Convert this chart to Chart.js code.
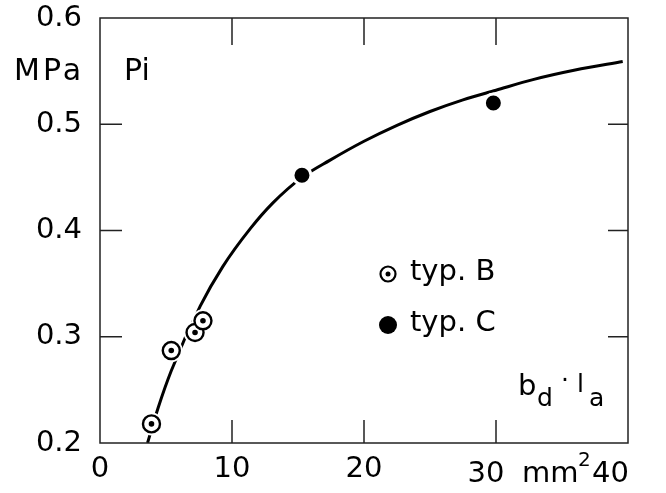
<!DOCTYPE html>
<html>
<head>
<meta charset="utf-8">
<script src="https://cdn.jsdelivr.net/npm/chart.js@4.4.1/dist/chart.umd.min.js"></script>
<style>
  html,body{margin:0;padding:0;background:#fff;}
  #wrap{width:666px;height:493px;}
</style>
</head>
<body>
<div id="wrap"><canvas id="chart" width="666" height="493"></canvas></div>
<script>
// fitted curve
const curveX = [3.6, 4.4, 5.4, 7.6, 9.3, 11.4, 13.1, 15.3, 17.4, 20.0, 22.5, 25.0, 27.5, 30.0, 32.8, 36.0, 39.6];
const curveY = [0.200, 0.233, 0.268, 0.329, 0.366, 0.402, 0.426, 0.450, 0.466, 0.484, 0.499, 0.512, 0.523, 0.532, 0.542, 0.551, 0.559];

// measured points
const typBX = [3.9, 5.4, 7.2, 7.8];
const typBY = [0.218, 0.287, 0.304, 0.315];
const typCX = [15.3, 29.8];
const typCY = [0.452, 0.520];

const xTicks = [0, 10, 20, 30, 40];
const yTicks = [0.2, 0.3, 0.4, 0.5, 0.6];

const FONT = 'DejaVu Sans';
const pts = (xs, ys) => xs.map((x, i) => ({x, y: ys[i]}));

// frame, inward tick marks, legend and free labels
const decor = {
  id: 'decor',
  afterDatasetsDraw(chart) {
    const {ctx, chartArea: a, scales: {x, y}} = chart;
    ctx.save();
    ctx.strokeStyle = '#222';
    ctx.lineWidth = 1.5;
    ctx.strokeRect(a.left, a.top, a.right - a.left, a.bottom - a.top);
    ctx.beginPath();
    xTicks.slice(1, -1).forEach(v => {
      const px = x.getPixelForValue(v);
      ctx.moveTo(px, a.bottom); ctx.lineTo(px, a.bottom - 23);
      ctx.moveTo(px, a.top); ctx.lineTo(px, a.top + 27);
    });
    yTicks.slice(1, -1).forEach(v => {
      const py = y.getPixelForValue(v);
      ctx.moveTo(a.left, py); ctx.lineTo(a.left + 22, py);
      ctx.moveTo(a.right, py); ctx.lineTo(a.right - 20, py);
    });
    ctx.stroke();

    ctx.fillStyle = '#000';
    ctx.textBaseline = 'middle';
    ctx.font = '30px ' + FONT;
    ctx.textAlign = 'left';
    ctx.letterSpacing = '3px';
    ctx.fillText('MPa', 14, 72);
    ctx.letterSpacing = '0px';
    ctx.fillText('Pi', 124, 72);

    // legend
    ctx.font = '29px ' + FONT;
    ctx.lineWidth = 2.2;
    ctx.beginPath(); ctx.arc(388, 274, 7.5, 0, Math.PI * 2);
    ctx.fillStyle = '#fff'; ctx.fill(); ctx.strokeStyle = '#000'; ctx.stroke();
    ctx.fillStyle = '#000';
    ctx.beginPath(); ctx.arc(388, 274, 2.5, 0, Math.PI * 2); ctx.fill();
    ctx.beginPath(); ctx.arc(388, 325, 9, 0, Math.PI * 2); ctx.fill();
    ctx.fillText('typ. B', 410, 272);
    ctx.fillText('typ. C', 410, 323);

    // axis quantity b_d · l_a
    ctx.textBaseline = 'alphabetic';
    ctx.fillText('b', 518, 395);
    ctx.font = '25px ' + FONT;
    ctx.fillText('d', 537, 406);
    ctx.fillText('\u00b7', 561, 388);
    ctx.fillText('l', 577, 392);
    ctx.fillText('a', 589, 406);

    // x unit with the last two tick labels
    ctx.font = '29px ' + FONT;
    ctx.textAlign = 'center';
    ctx.fillText('30', x.getPixelForValue(30) - 10, 482);
    ctx.textAlign = 'left';
    ctx.fillText('mm', 522, 482);
    ctx.font = '20px ' + FONT;
    ctx.fillText('2', 578, 466);
    ctx.font = '29px ' + FONT;
    ctx.fillText('40', 592, 482);
    ctx.restore();
  }
};

new Chart(document.getElementById('chart'), {
  type: 'scatter',
  data: {
    datasets: [
      {label: 'curve', data: pts(curveX, curveY), showLine: true, borderColor: '#000', borderWidth: 3,
       pointRadius: 0, cubicInterpolationMode: 'monotone', order: 5},
      {label: 'halo B', data: pts(typBX, typBY), pointRadius: 11.5, pointBackgroundColor: '#fff',
       pointBorderWidth: 0, order: 4},
      {label: 'typ. B', data: pts(typBX, typBY), pointRadius: 8.5, pointBackgroundColor: '#fff',
       pointBorderColor: '#000', pointBorderWidth: 2.4, order: 3},
      {label: 'dot B', data: pts(typBX, typBY), pointRadius: 2.8, pointBackgroundColor: '#000',
       pointBorderWidth: 0, order: 2},
      {label: 'typ. C', data: pts(typCX, typCY), pointRadius: 9, pointBackgroundColor: '#000',
       pointBorderColor: '#fff', pointBorderWidth: 3, order: 1}
    ]
  },
  options: {
    responsive: false,
    animation: false,
    layout: {padding: {top: 18, right: 38, left: 0, bottom: 0}},
    plugins: {legend: {display: false}, tooltip: {enabled: false}},
    scales: {
      x: {
        type: 'linear', min: 0, max: 40,
        afterBuildTicks: s => { s.ticks = xTicks.map(v => ({value: v})); },
        afterFit: s => { s.height = 50; s.paddingLeft = 0; s.paddingRight = 0; },
        grid: {display: false, drawTicks: false},
        border: {display: false},
        ticks: {color: '#000', font: {family: FONT, size: 29}, padding: 9,
                maxRotation: 0, callback: v => (v === 30 || v === 40) ? '' : v}
      },
      y: {
        type: 'linear', min: 0.2, max: 0.6,
        afterBuildTicks: s => { s.ticks = yTicks.map(v => ({value: v})); },
        afterFit: s => { s.width = 100; s.paddingTop = 0; s.paddingBottom = 0; },
        grid: {display: false, drawTicks: false},
        border: {display: false},
        ticks: {color: '#000', font: {family: FONT, size: 29}, padding: 18,
                callback: v => v.toFixed(1)}
      }
    }
  },
  plugins: [decor]
});
</script>
</body>
</html>
